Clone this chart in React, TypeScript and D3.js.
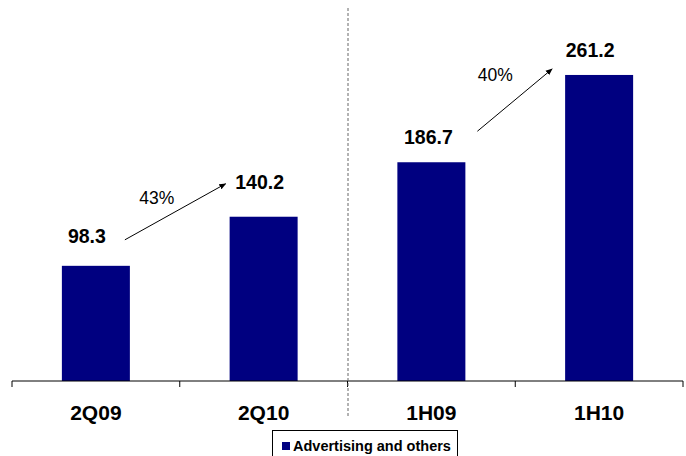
import React from "react";
import * as d3 from "d3";

const categories = ["2Q09", "2Q10", "1H09", "1H10"];
const values = [98.3, 140.2, 186.7, 261.2];
const growthLabels = ["43%", "40%"];
const legendLabel = "Advertising and others";

// layout tweaks for value labels (offset from bar center / gap above bar)
const labelDx = [-9, -4, -3, -9];
const labelGap = [23, 28, 18, 18];

const W = 686;
const H = 456;
const FONT = "'Liberation Sans', Arial, sans-serif";
const BAR = "#000080";

export default function App() {
  const x = d3.scaleBand<string>().domain(categories).range([12, 683]).paddingInner(0).paddingOuter(0);
  const y = d3.scaleLinear().domain([0, 300]).range([381, 29.5]);
  const bw = x.bandwidth();
  const barW = 68;
  const cx = (c: string) => (x(c) as number) + bw / 2;

  const arrows = [
    { x1: cx(categories[0]) + 29, y1: y(values[0]) - 26, x2: cx(categories[1]) - 38, y2: y(values[1]) - 33, label: growthLabels[0], tx: cx(categories[0]) + 61, ty: y(values[0]) - 62 },
    { x1: cx(categories[2]) + 46, y1: y(values[2]) - 31, x2: cx(categories[3]) - 47, y2: y(values[3]) - 6, label: growthLabels[1], tx: cx(categories[2]) + 64, ty: y(values[3]) + 6 },
  ];

  return (
    <svg width={W} height={H} style={{ position: "absolute", left: 0, top: 0, background: "#fff" }}>
      <defs>
        <marker id="ah" viewBox="0 0 10 10" refX="9" refY="5" markerWidth="7" markerHeight="7" orient="auto">
          <path d="M0,1 L10,5 L0,9 z" fill="#000" />
        </marker>
      </defs>
      {categories.map((c, i) => (
        <rect key={c} x={cx(c) - barW / 2} y={y(values[i])} width={barW} height={y(0) - y(values[i])} fill={BAR} />
      ))}
      {categories.map((c, i) => (
        <text key={"l" + c} x={cx(c) + labelDx[i]} y={y(values[i]) - labelGap[i]} textAnchor="middle" fontFamily={FONT} fontWeight="bold" fontSize={19.5} fill="#000">
          {values[i].toFixed(1)}
        </text>
      ))}
      <line x1={12} x2={683} y1={y(0)} y2={y(0)} stroke="#000" strokeWidth={1} />
      {[...categories.map((c) => x(c) as number), 683].map((t, i) => (
        <line key={"t" + i} x1={t} x2={t} y1={y(0)} y2={y(0) + 6} stroke="#000" strokeWidth={1} />
      ))}
      {categories.map((c) => (
        <text key={"c" + c} x={cx(c)} y={y(0) + 39} textAnchor="middle" fontFamily={FONT} fontWeight="bold" fontSize={21} fill="#000">
          {c}
        </text>
      ))}
      <line x1={348} x2={348} y1={8} y2={416} stroke="#666" strokeWidth={1} strokeDasharray="3,2" />
      {arrows.map((a, i) => (
        <g key={"a" + i}>
          <line x1={a.x1} y1={a.y1} x2={a.x2} y2={a.y2} stroke="#000" strokeWidth={1} markerEnd="url(#ah)" />
          <text x={a.tx} y={a.ty} textAnchor="middle" fontFamily={FONT} fontSize={17.5} fill="#000">{a.label}</text>
        </g>
      ))}
      <rect x={272.5} y={430.5} width={185} height={30} fill="#fff" stroke="#000" strokeWidth={1} />
      <rect x={282} y={442} width={8} height={8} fill={BAR} />
      <text x={293} y={451} fontFamily={FONT} fontWeight="bold" fontSize={14.5} fill="#000">{legendLabel}</text>
    </svg>
  );
}
